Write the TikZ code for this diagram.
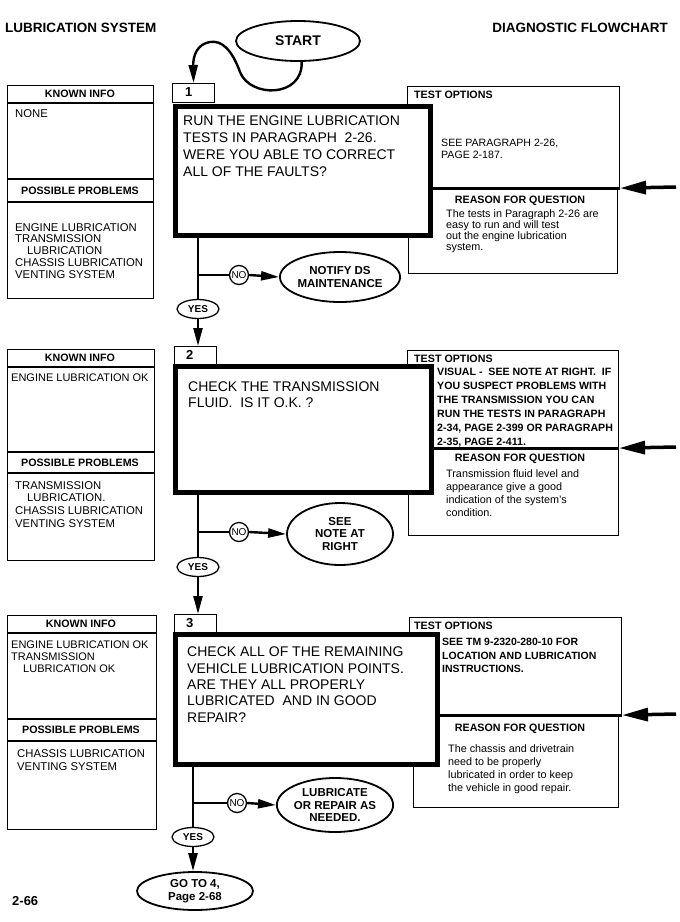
\documentclass[tikz,border=0pt]{standalone}
\usepackage{fontspec}
\setmainfont{Liberation Sans}
\usetikzlibrary{shapes.geometric,arrows.meta}
\newcommand\fz[2]{\fontsize{#1}{#2}\selectfont}
\begin{document}
\begin{tikzpicture}[x=1pt,y=-1pt,
  box/.style={draw, line width=1.1pt, fill=white, inner sep=0pt, anchor=north west},
  mbox/.style={draw, line width=4.5pt, fill=white, inner sep=0pt, anchor=north west},
  thinline/.style={line width=1.1pt},
  sepline/.style={line width=3pt},
  oval/.style={ellipse, draw, line width=1.8pt, fill=white, inner sep=0pt, align=center, font=\bfseries\fz{11.5}{12.5}},
  nocirc/.style={circle, draw, line width=1.3pt, fill=white, inner sep=0pt, minimum size=19pt, font=\fz{10}{10}},
  yesoval/.style={ellipse, draw, line width=1.3pt, fill=white, inner sep=0pt, minimum width=42pt, minimum height=19pt, font=\bfseries\fz{10}{10}},
  conn/.style={line width=2.4pt},
  arr/.style={conn, -{Triangle[length=18pt,width=9pt]}},
  bigarr/.style={line width=3.5pt, -{Triangle[length=26pt,width=13pt]}},
  txt/.style={inner sep=0pt, anchor=north west, align=left},
  mtxt/.style={txt, font=\fz{14}{17}},
  hdr/.style={inner sep=0pt, font=\bfseries\fz{10.7}{11}},
  tabnum/.style={txt, font=\bfseries\fz{13}{13}},
  tohdr/.style={txt, font=\bfseries\fz{10.7}{11}}
]
\useasboundingbox (0,0) rectangle (680,922);
\fill[white] (0,0) rectangle (680,922);

% header
\node[txt, font=\bfseries\fz{13.5}{14}] (h1) at (5,23) {LUBRICATION SYSTEM};
\node[txt, anchor=north east, font=\bfseries\fz{13.5}{14}] (h2) at (668,23) {DIAGNOSTIC FLOWCHART};

\node[oval, minimum width=124pt, minimum height=40pt, font=\bfseries\fz{14}{14}] (start) at (298,41) {START};

% ================= BLOCK 1 =================
\node[box, minimum width=146pt, minimum height=213pt] (k1) at (7,85) {};
\draw[thinline] (k1.north west) ++(0,18) -- ++(146,0);
\draw[thinline] (k1.north west) ++(0,94) -- ++(146,0);
\draw[thinline] (k1.north west) ++(0,117) -- ++(146,0);
\node[hdr] (k1h) at (80,94) {KNOWN INFO};
\node[hdr] (p1h) at (80,191) {POSSIBLE PROBLEMS};
\node[txt, font=\fz{11.3}{11.8}] (k1t) at (15,109) {NONE};
\node[txt, font=\fz{11.3}{11.8}] (p1t) at (15,223) {ENGINE LUBRICATION\\TRANSMISSION\\\hspace*{12pt}LUBRICATION\\CHASSIS LUBRICATION\\VENTING SYSTEM};

\node[box, minimum width=212pt, minimum height=101pt] (to1) at (407,86) {};
\node[box, minimum width=209pt, minimum height=86pt] (r1) at (408,187) {};
\node[mbox, minimum width=255pt, minimum height=129pt] (m1) at (173,104) {};
\draw[sepline] (m1.east |- to1.south) -- (to1.south east);
\node[box, minimum width=42pt, minimum height=19pt] (t1) at (172,83) {};
\node[tabnum] (t1n) at (185,87) {1};
\node[mtxt] (m1t) at (183,116) {RUN THE ENGINE LUBRICATION\\TESTS IN PARAGRAPH\ \ 2-26.\\WERE YOU ABLE TO CORRECT\\ALL OF THE FAULTS?};
\node[tohdr] (to1h) at (414,91) {TEST OPTIONS};
\node[txt, font=\fz{10.6}{11.5}] (to1t) at (441,139) {SEE PARAGRAPH 2-26,\\PAGE 2-187.};
\node[hdr, anchor=north] (r1h) at (520,196) {REASON FOR QUESTION};
\node[txt, font=\fz{10.8}{11.2}] (r1t) at (446,209) {The tests in Paragraph 2-26 are\\easy to run and will test\\out the engine lubrication\\system.};
\coordinate (ra1) at (676,187);
\draw[bigarr] (ra1) -- (to1.south east);

\draw[arr] (start.-80) .. controls (303,98) and (250,98) .. (240,72) .. controls (232,50) and (222,40) .. (210,42) .. controls (197,44) and (193,56) .. (t1.north);

\node[yesoval] (y1) at (198,309) {YES};
\node[nocirc] (n1) at (239,275) {NO};
\node[oval, minimum width=114pt, minimum height=50pt] (o1) at (340,277) {NOTIFY DS\\MAINTENANCE};
\draw[conn] (y1 |- m1.south) -- (y1.north);
\draw[conn] (y1 |- n1) -- (n1.west);
\draw[arr] (n1.east) -- (o1.west);

% ================= BLOCK 2 =================
\node[box, minimum width=147pt, minimum height=211pt] (k2) at (7,349) {};
\draw[thinline] (k2.north west) ++(0,18) -- ++(147,0);
\draw[thinline] (k2.north west) ++(0,103) -- ++(147,0);
\draw[thinline] (k2.north west) ++(0,124) -- ++(147,0);
\node[hdr] (k2h) at (80,358) {KNOWN INFO};
\node[hdr] (p2h) at (80,463) {POSSIBLE PROBLEMS};
\node[txt, font=\fz{11}{12.7}] (k2t) at (11,374) {ENGINE LUBRICATION OK};
\node[txt, font=\fz{11.3}{12.7}] (p2t) at (15,481) {TRANSMISSION\\\hspace*{12pt}LUBRICATION.\\CHASSIS LUBRICATION\\VENTING SYSTEM};

\node[box, minimum width=211pt, minimum height=97pt] (to2) at (407,350) {};
\node[box, minimum width=210pt, minimum height=88pt] (r2) at (408,447) {};
\node[mbox, minimum width=256pt, minimum height=126pt] (m2) at (173,364) {};
\draw[sepline] (m2.east |- to2.south) -- (to2.south east);
\node[box, minimum width=42pt, minimum height=18pt] (t2) at (174,346) {};
\node[tabnum] (t2n) at (186,350) {2};
\node[mtxt, font=\fz{14}{16}] (m2t) at (188,382) {CHECK THE TRANSMISSION\\FLUID.\ \ IS IT O.K. ?};
\node[tohdr] (to2h) at (414,355) {TEST OPTIONS};
\node[txt, font=\bfseries\fz{10.6}{14}] (to2t) at (437,368) {VISUAL -\ \ SEE NOTE AT RIGHT.\ \ IF\\YOU SUSPECT PROBLEMS WITH\\THE TRANSMISSION YOU CAN\\RUN THE TESTS IN PARAGRAPH\\2-34, PAGE 2-399 OR PARAGRAPH\\2-35, PAGE 2-411.};
\node[hdr, anchor=north] (r2h) at (520,454) {REASON FOR QUESTION};
\node[txt, font=\fz{10.8}{13}] (r2t) at (446,469) {Transmission fluid level and\\appearance give a good\\indication of the system's\\condition.};
\coordinate (ra2) at (676,447);
\draw[bigarr] (ra2) -- (to2.south east);

\draw[arr] (y1.south) -- (y1 |- t2.north);

\node[yesoval] (y2) at (198,567) {YES};
\node[nocirc] (n2) at (239,532) {NO};
\node[oval, minimum width=106pt, minimum height=62pt] (o2) at (340,534) {SEE\\NOTE AT\\RIGHT};
\draw[conn] (y2 |- m2.south) -- (y2.north);
\draw[conn] (y2 |- n2) -- (n2.west);
\draw[arr] (n2.east) -- (o2.west);

% ================= BLOCK 3 =================
\node[box, minimum width=149pt, minimum height=214pt] (k3) at (7,615) {};
\draw[thinline] (k3.north west) ++(0,18) -- ++(149,0);
\draw[thinline] (k3.north west) ++(0,104) -- ++(149,0);
\draw[thinline] (k3.north west) ++(0,126) -- ++(149,0);
\node[hdr] (k3h) at (81,624) {KNOWN INFO};
\node[hdr] (p3h) at (81,730) {POSSIBLE PROBLEMS};
\node[txt, font=\fz{11}{12}] (k3t) at (11,641) {ENGINE LUBRICATION OK\\TRANSMISSION\\\hspace*{12pt}LUBRICATION OK};
\node[txt, font=\fz{11.3}{13}] (p3t) at (17,749) {CHASSIS LUBRICATION\\VENTING SYSTEM};

\node[box, minimum width=212pt, minimum height=97pt] (to3) at (409,617) {};
\node[box, minimum width=205pt, minimum height=93pt] (r3) at (413,714) {};
\node[mbox, minimum width=262pt, minimum height=130pt] (m3) at (173,632) {};
\draw[sepline] (m3.east |- to3.south) -- (to3.south east);
\node[box, minimum width=42pt, minimum height=18pt] (t3) at (174,614) {};
\node[tabnum] (t3n) at (186,618) {3};
\node[mtxt, font=\fz{14}{16.3}] (m3t) at (187,647) {CHECK ALL OF THE REMAINING\\VEHICLE LUBRICATION POINTS.\\ARE THEY ALL PROPERLY\\LUBRICATED\ \ AND IN GOOD\\REPAIR?};
\node[tohdr] (to3h) at (414,622) {TEST OPTIONS};
\node[txt, font=\bfseries\fz{10.5}{13.5}] (to3t) at (442,638) {SEE TM 9-2320-280-10 FOR\\LOCATION AND LUBRICATION\\INSTRUCTIONS.};
\node[hdr, anchor=north] (r3h) at (520,724) {REASON FOR QUESTION};
\node[txt, font=\fz{10.8}{13}] (r3t) at (448,744) {The chassis and drivetrain\\need to be properly\\lubricated in order to keep\\the vehicle in good repair.};
\coordinate (ra3) at (676,714);
\draw[bigarr] (ra3) -- (to3.south east);

\draw[arr] (y2.south) -- (y2 |- t3.north);

\node[yesoval] (y3) at (193,837) {YES};
\node[nocirc] (n3) at (237,803) {NO};
\node[oval, minimum width=114pt, minimum height=54pt] (o3) at (335,805) {LUBRICATE\\OR REPAIR AS\\NEEDED.};
\node[oval, minimum width=116pt, minimum height=38pt] (g4) at (195,891) {GO TO 4,\\Page 2-68};
\draw[conn] (y3 |- m3.south) -- (y3.north);
\draw[conn] (y3 |- n3) -- (n3.west);
\draw[arr] (n3.east) -- (o3.west);
\draw[arr] (y3.south) -- (y3 |- g4.north);

\node[txt, font=\bfseries\fz{13}{13}] (pg) at (12,896) {2-66};
\end{tikzpicture}
\end{document}
